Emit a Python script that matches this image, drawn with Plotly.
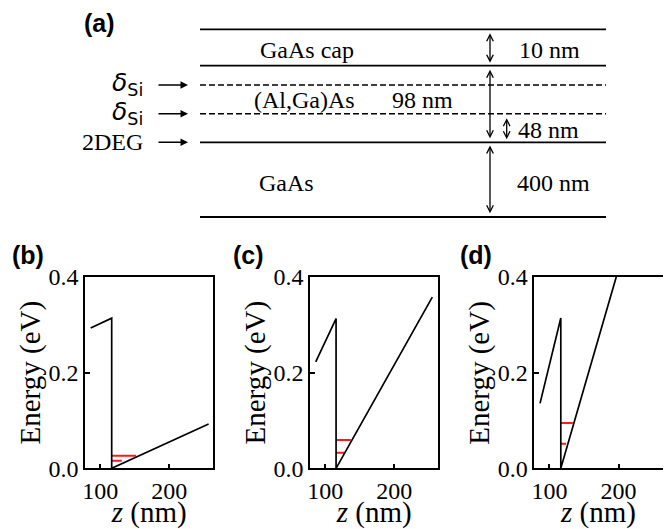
import plotly.graph_objects as go

# ---------------- data: conduction-band profiles (z in nm, E in eV) ----------------
z_b = [86.2, 116.7, 116.7, 257.2]
E_b = [0.2935, 0.314, 0.0, 0.0925]
z_c = [86.3, 115.8, 115.8, 255.3]
E_c = [0.2226, 0.313, 0.0, 0.358]
z_d = [86.3, 116.4, 116.4, 196.7]
E_d = [0.1357, 0.3144, 0.0, 0.4]

# subband energies (eV) and where each level line ends (nm)
levels_b = [0.0159, 0.0263]
level_end_b = [131.3, 152.0]
levels_c = [0.0326, 0.059]
level_end_c = [127.9, 137.2]
levels_d = [0.0514, 0.0946]
level_end_d = [124.1, 133.8]

x_ticks = [100, 200]
y_ticks = [0.0, 0.2, 0.4]
panel_labels = ["(b)", "(c)", "(d)"]
x_title = "<i>z</i> (nm)"
y_title = "Energy (eV)"

# schematic (a) texts
layer_names = ["GaAs cap", "(Al,Ga)As", "GaAs"]
layer_thickness = ["10 nm", "98 nm", "400 nm"]
spacer_label = "48 nm"
side_labels = ["<i>δ</i><sub>Si</sub>", "<i>δ</i><sub>Si</sub>", "2DEG"]

# ---------------- figure ----------------
PAGE_W, PAGE_H = 671, 529
OFF = 8  # default page margin of the html body
W, H = PAGE_W - OFF, PAGE_H - OFF
SERIF = "Liberation Serif"
SANS = "Liberation Sans"

fig = go.Figure()

profiles = [(z_b, E_b, levels_b, level_end_b),
            (z_c, E_c, levels_c, level_end_c),
            (z_d, E_d, levels_d, level_end_d)]
axis_ids = ["", "2", "3"]

for (z, E, lev, lev_end), aid in zip(profiles, axis_ids):
    wall = z[1]
    for e, ze in zip(lev, lev_end):
        fig.add_trace(go.Scatter(x=[wall, ze], y=[e, e], mode="lines",
                                 line=dict(color="#ff1a1a", width=2),
                                 xaxis="x" + aid, yaxis="y" + aid, showlegend=False,
                                 hoverinfo="skip"))
    fig.add_trace(go.Scatter(x=z, y=E, mode="lines",
                             line=dict(color="black", width=1.7),
                             xaxis="x" + aid, yaxis="y" + aid, showlegend=False))

# panel geometry (page pixels)
panel_x = [(85, 213.3), (310, 438.3), (534.3, 662.7)]
panel_y = (277, 468.3)


def px2x(p):
    return (p - OFF) / W


def px2y(p):
    return 1 - (p - OFF) / H


tickfont = dict(family=SERIF, size=24, color="black")
titlefont = dict(family=SERIF, size=29, color="black")

ann = []
for (x0, x1), aid in zip(panel_x, axis_ids):
    fig.layout["xaxis" + aid] = dict(
        domain=[px2x(x0), px2x(x1)], anchor="y" + aid, range=[78, 264], automargin=False,
        tickvals=x_ticks, ticks="inside", ticklen=5, tickwidth=1.5, tickcolor="black",
        showline=True, linecolor="black", linewidth=1.5, mirror=True,
        showgrid=False, zeroline=False, tickfont=tickfont,
        title=dict(text=x_title, font=titlefont, standoff=3))
    fig.layout["yaxis" + aid] = dict(
        domain=[px2y(panel_y[1]), px2y(panel_y[0])], anchor="x" + aid, range=[0, 0.4],
        automargin=False,
        tickvals=y_ticks, tickformat=".1f", ticks="inside", ticklen=5, tickwidth=1.5,
        tickcolor="black", showline=True, linecolor="black", linewidth=1.5, mirror=True,
        showgrid=False, zeroline=False, tickfont=tickfont)
    # y-axis title
    ann.append(dict(text=y_title, x=px2x(x0 - 55.5), y=px2y(373), xref="paper",
                    yref="paper", textangle=-90, showarrow=False, font=titlefont,
                    xanchor="center", yanchor="middle"))

# schematic axis in page-pixel units
fig.layout["xaxis4"] = dict(domain=[0, 1], range=[OFF, OFF + W], visible=False,
                            anchor="y4", automargin=False)
fig.layout["yaxis4"] = dict(domain=[px2y(230), 1], range=[230, OFF], visible=False,
                            anchor="x4", automargin=False)

solid_lines_y = [29.3, 65.7, 142.3, 217]
dashed_lines_y = [85, 113.7]
line_x = [200, 606]
for yy in solid_lines_y:
    fig.add_trace(go.Scatter(x=line_x, y=[yy, yy], mode="lines",
                             line=dict(color="black", width=1.8),
                             xaxis="x4", yaxis="y4", showlegend=False, hoverinfo="skip"))
for yy in dashed_lines_y:
    fig.add_trace(go.Scatter(x=line_x, y=[yy, yy], mode="lines",
                             line=dict(color="black", width=1.4, dash="6px,3px"),
                             xaxis="x4", yaxis="y4", showlegend=False, hoverinfo="skip"))

txt = dict(family=SERIF, size=24, color="black")

# layer names and thicknesses
for name, pos in zip(layer_names, [(307, 50), (304, 100), (286, 183)]):
    ann.append(dict(text=name, x=pos[0], y=pos[1], xref="x4", yref="y4",
                    showarrow=False, font=txt, xanchor="center", yanchor="middle"))
for t, pos in zip(layer_thickness, [(549, 50), (422, 100), (553, 183)]):
    ann.append(dict(text=t, x=pos[0], y=pos[1], xref="x4", yref="y4",
                    showarrow=False, font=txt, xanchor="center", yanchor="middle"))
ann.append(dict(text=spacer_label, x=548, y=130, xref="x4", yref="y4",
                showarrow=False, font=txt, xanchor="center", yanchor="middle"))

# double arrows
for (xa, y0, y1) in [(490, 31.7, 62.7), (490, 68.3, 138.3), (506.7, 116.7, 139.3), (490, 144, 213.3)]:
    ann.append(dict(text="", x=xa, y=y1, ax=xa, ay=y0, xref="x4", yref="y4",
                    axref="x4", ayref="y4", showarrow=True, arrowhead=5, startarrowhead=5,
                    arrowside="end+start", arrowsize=1, startarrowsize=1, arrowwidth=1.3,
                    arrowcolor="black", standoff=0, startstandoff=0))

# side labels with arrows
for lab, yy in zip(side_labels, [85, 113.7, 142.3]):
    if lab == "2DEG":
        f = txt
        ylab = yy
    else:
        f = dict(family="DejaVu Sans", size=25, color="black")
        ylab = yy - 1
    ann.append(dict(text=lab, x=145, y=ylab, xref="x4", yref="y4", showarrow=False,
                    font=f, xanchor="right", yanchor="middle"))
    ann.append(dict(text="", x=188, y=yy, ax=157, ay=yy, xref="x4", yref="y4",
                    axref="x4", ayref="y4", showarrow=True, arrowhead=2, arrowsize=1,
                    arrowwidth=1.5, arrowcolor="black", standoff=0))

# panel labels
bold = dict(family=SANS, size=25, color="black")
ann.append(dict(text="<b>(a)</b>", x=px2x(99), y=px2y(23), xref="paper", yref="paper",
                showarrow=False, font=bold, xanchor="center", yanchor="middle"))
for lab, cx in zip(panel_labels, [28, 248, 476]):
    ann.append(dict(text="<b>%s</b>" % lab, x=px2x(cx), y=px2y(255), xref="paper",
                    yref="paper", showarrow=False, font=bold, xanchor="center",
                    yanchor="middle"))

fig.update_layout(template="none", width=W, height=H,
                  margin=dict(l=0, r=0, t=0, b=0, autoexpand=False),
                  paper_bgcolor="white", plot_bgcolor="white", annotations=ann,
                  showlegend=False)

fig.write_html("out.html")
